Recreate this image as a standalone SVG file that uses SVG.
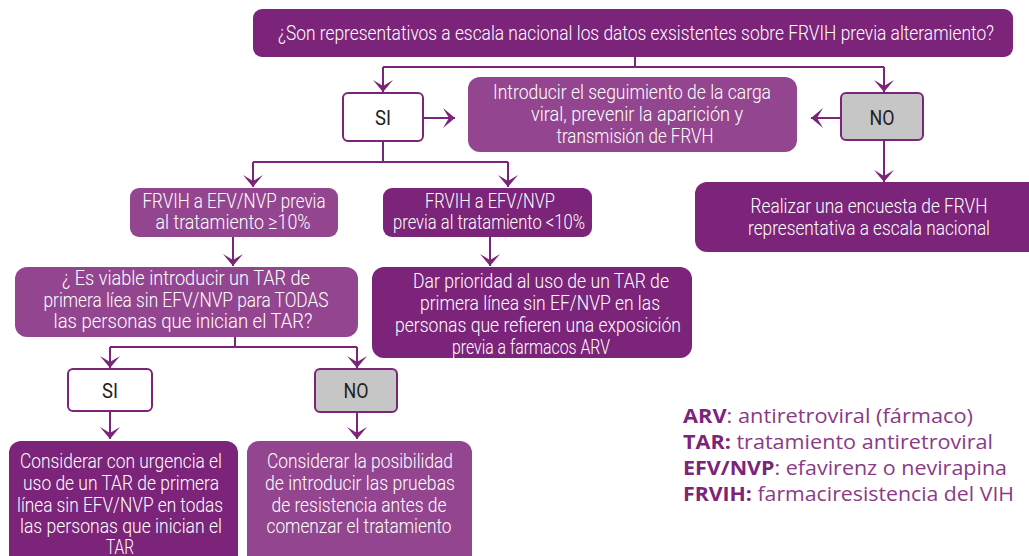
<svg xmlns="http://www.w3.org/2000/svg" width="1029" height="556" viewBox="0 0 1029 556">
<style>
.dk{fill:#7b2479}
.lt{fill:#93468f}
.wb{fill:#ffffff;stroke:#7b2479;stroke-width:2}
.gb{fill:#c6c6c6;stroke:#7b2479;stroke-width:2}
.t{font-family:Roboto,"Liberation Sans Narrow","DejaVu Sans Condensed",sans-serif;font-weight:300;font-size:20px;fill:#ffffff;text-anchor:middle}
.tb{font-size:21px}
.k{fill:#222222;font-size:21px;font-weight:400}
.c{fill:none;stroke:#7b2479;stroke-width:2}
.lg{font-family:"Open Sans","Noto Sans","Liberation Sans",sans-serif;font-size:20px;fill:#8a3a87}
.lg tspan.b{font-weight:bold;fill:#7b2479}
</style>
<defs>
<marker id="ah" viewBox="-13 -12 15 24" refX="0" refY="0" markerWidth="15" markerHeight="24" markerUnits="userSpaceOnUse" orient="auto">
<path d="M0,0 L-12,-10 L-6,0 L-12,10 Z" fill="#7b2479"/>
</marker>
</defs>
<rect width="1029" height="556" fill="#ffffff"/>

<g id="connectors">
<path class="c" d="M635,57 V67"/>
<path class="c" d="M383,67 H884"/>
<path class="c" d="M383,67 V92" marker-end="url(#ah)"/>
<path class="c" d="M884,67 V92" marker-end="url(#ah)"/>
<path class="c" d="M423,118 H455" marker-end="url(#ah)"/>
<path class="c" d="M841,118 H811" marker-end="url(#ah)"/>
<path class="c" d="M884,140 V182" marker-end="url(#ah)"/>
<path class="c" d="M383,141 V162"/>
<path class="c" d="M253,162 H508"/>
<path class="c" d="M253,162 V187" marker-end="url(#ah)"/>
<path class="c" d="M508,162 V187" marker-end="url(#ah)"/>
<path class="c" d="M233,237 V266" marker-end="url(#ah)"/>
<path class="c" d="M490,237 V266" marker-end="url(#ah)"/>
<path class="c" d="M235,337 V347"/>
<path class="c" d="M110,347 H357"/>
<path class="c" d="M110,347 V368" marker-end="url(#ah)"/>
<path class="c" d="M357,347 V368" marker-end="url(#ah)"/>
<path class="c" d="M110,411 V439" marker-end="url(#ah)"/>
<path class="c" d="M357,412 V439" marker-end="url(#ah)"/>
</g>

<g id="q1">
<rect class="dk" x="253" y="9" width="760" height="48" rx="9"/>
<text class="t" x="636" y="40" textLength="716" lengthAdjust="spacingAndGlyphs">¿Son representativos a escala nacional los datos exsistentes sobre FRVIH previa alteramiento?</text>
</g>

<g id="si1">
<rect class="wb" x="343" y="93" width="80" height="48" rx="5"/>
<text class="t k" x="383" y="125" textLength="16" lengthAdjust="spacingAndGlyphs">SI</text>
</g>

<g id="introducir">
<rect class="lt" x="468" y="77" width="329" height="75" rx="12"/>
<text class="t" x="632" y="99" textLength="278" lengthAdjust="spacingAndGlyphs">Introducir el seguimiento de la carga</text>
<text class="t" x="637" y="121" textLength="212" lengthAdjust="spacingAndGlyphs">viral, prevenir la aparición y</text>
<text class="t" x="635" y="143" textLength="157" lengthAdjust="spacingAndGlyphs">transmisión de FRVH</text>
</g>

<g id="no1">
<rect class="gb" x="841" y="93" width="82" height="47" rx="5"/>
<text class="t k" x="882" y="125" textLength="25" lengthAdjust="spacingAndGlyphs">NO</text>
</g>

<g id="encuesta">
<rect class="dk" x="695" y="182" width="350" height="70" rx="12"/>
<text class="t" x="869" y="213" textLength="237" lengthAdjust="spacingAndGlyphs">Realizar una encuesta de FRVH</text>
<text class="t" x="869" y="235" textLength="242" lengthAdjust="spacingAndGlyphs">representativa a escala nacional</text>
</g>

<g id="mayor10">
<rect class="lt" x="130" y="188" width="208" height="49" rx="9"/>
<text class="t" x="234" y="208" textLength="183" lengthAdjust="spacingAndGlyphs">FRVIH a EFV/NVP previa</text>
<text class="t" x="233" y="229" textLength="155" lengthAdjust="spacingAndGlyphs">al tratamiento ≥10%</text>
</g>

<g id="menor10">
<rect class="dk" x="383" y="188" width="209" height="49" rx="9"/>
<text class="t" x="490" y="208" textLength="130" lengthAdjust="spacingAndGlyphs">FRVIH a EFV/NVP</text>
<text class="t" x="489" y="229" textLength="192" lengthAdjust="spacingAndGlyphs">previa al tratamiento &lt;10%</text>
</g>

<g id="viable">
<rect class="lt" x="15" y="267" width="343" height="70" rx="12"/>
<text class="t" x="186" y="285" textLength="248" lengthAdjust="spacingAndGlyphs">¿ Es viable introducir un TAR de</text>
<text class="t" x="186" y="307" textLength="285" lengthAdjust="spacingAndGlyphs">primera líea sin EFV/NVP para TODAS</text>
<text class="t" x="183" y="328" textLength="259" lengthAdjust="spacingAndGlyphs">las personas que inician el TAR?</text>
</g>

<g id="prioridad">
<rect class="dk" x="372" y="267" width="320" height="91" rx="12"/>
<text class="t" x="541" y="288" textLength="256" lengthAdjust="spacingAndGlyphs">Dar prioridad al uso de un TAR de</text>
<text class="t" x="540" y="310" textLength="240" lengthAdjust="spacingAndGlyphs">primera línea sin EF/NVP en las</text>
<text class="t" x="538" y="332" textLength="286" lengthAdjust="spacingAndGlyphs">personas que refieren una exposición</text>
<text class="t" x="531" y="354" textLength="158" lengthAdjust="spacingAndGlyphs">previa a farmacos ARV</text>
</g>

<g id="si2">
<rect class="wb" x="68" y="369" width="84" height="42" rx="5"/>
<text class="t k" x="110" y="398" textLength="16" lengthAdjust="spacingAndGlyphs">SI</text>
</g>

<g id="no2">
<rect class="gb" x="315" y="369" width="82" height="43" rx="5"/>
<text class="t k" x="356" y="398" textLength="25" lengthAdjust="spacingAndGlyphs">NO</text>
</g>

<g id="urgencia">
<rect class="dk" x="9" y="441" width="229" height="130" rx="12"/>
<text class="t tb" x="121" y="468" textLength="202" lengthAdjust="spacingAndGlyphs">Considerar con urgencia el</text>
<text class="t tb" x="121" y="490" textLength="196" lengthAdjust="spacingAndGlyphs">uso de un TAR de primera</text>
<text class="t tb" x="120" y="512" textLength="206" lengthAdjust="spacingAndGlyphs">línea sin EFV/NVP en todas</text>
<text class="t tb" x="121" y="533" textLength="202" lengthAdjust="spacingAndGlyphs">las personas que inician el</text>
<text class="t tb" x="120" y="554" textLength="28" lengthAdjust="spacingAndGlyphs">TAR</text>
</g>

<g id="pruebas">
<rect class="lt" x="247" y="441" width="225" height="130" rx="12"/>
<text class="t tb" x="360" y="468" textLength="186" lengthAdjust="spacingAndGlyphs">Considerar la posibilidad</text>
<text class="t tb" x="360" y="490" textLength="190" lengthAdjust="spacingAndGlyphs">de introducir las pruebas</text>
<text class="t tb" x="359" y="512" textLength="175" lengthAdjust="spacingAndGlyphs">de resistencia antes de</text>
<text class="t tb" x="359" y="533" textLength="185" lengthAdjust="spacingAndGlyphs">comenzar el tratamiento</text>
</g>

<g id="legend">
<text class="lg" x="683" y="423" textLength="290" lengthAdjust="spacingAndGlyphs"><tspan class="b">ARV</tspan>: antiretroviral (fármaco)</text>
<text class="lg" x="683" y="449" textLength="310" lengthAdjust="spacingAndGlyphs"><tspan class="b">TAR:</tspan> tratamiento antiretroviral</text>
<text class="lg" x="683" y="475" textLength="324" lengthAdjust="spacingAndGlyphs"><tspan class="b">EFV/NVP</tspan>: efavirenz o nevirapina</text>
<text class="lg" x="683" y="501" textLength="331" lengthAdjust="spacingAndGlyphs"><tspan class="b">FRVIH:</tspan> farmaciresistencia del VIH</text>
</g>
</svg>
